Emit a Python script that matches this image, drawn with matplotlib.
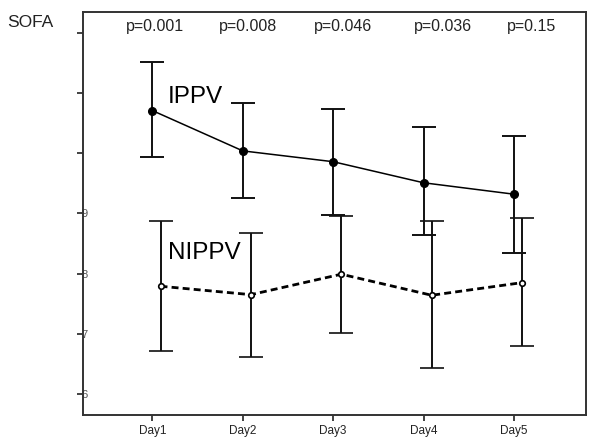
"""SOFA score over days, IPPV vs NIPPV."""

import matplotlib.pyplot as plt
import numpy as np

plt.rcParams['font.family'] = ['Liberation Sans', 'DejaVu Sans']

days = ['Day1', 'Day2', 'Day3', 'Day4', 'Day5']

ippv_mean = [10.71, 10.04, 9.86, 9.51, 9.32]
ippv_lo = [9.93, 9.25, 8.98, 8.65, 8.35]
ippv_hi = [11.51, 10.84, 10.74, 10.43, 10.28]

nippv_mean = [7.79, 7.65, 7.99, 7.64, 7.85]
nippv_lo = [6.72, 6.62, 7.02, 6.43, 6.79]
nippv_hi = [8.87, 8.67, 8.95, 8.87, 8.93]

p_values = ['p=0.001', 'p=0.008', 'p=0.046', 'p=0.036', 'p=0.15']

x = np.arange(1, len(days) + 1)
x_nippv = x + 0.09  # NIPPV drawn slightly offset in the original

fig = plt.figure(figsize=(6, 4.41), dpi=100)
ax = fig.add_axes([0.138, 0.059, 0.839, 0.914])

ippv_err = [np.subtract(ippv_mean, ippv_lo), np.subtract(ippv_hi, ippv_mean)]
nippv_err = [np.subtract(nippv_mean, nippv_lo), np.subtract(nippv_hi, nippv_mean)]

ax.errorbar(x, ippv_mean, yerr=ippv_err, color='black', linewidth=1.1,
            marker='o', markersize=5.5, markerfacecolor='black',
            ecolor='#111111', elinewidth=1.4, capsize=8.5, capthick=1.4)

ax.errorbar(x_nippv, nippv_mean, yerr=nippv_err, color='black',
            linewidth=2.0, linestyle=(0, (2.5, 1.5)),
            marker='o', markersize=4, markerfacecolor='white',
            markeredgewidth=1.2,
            ecolor='#111111', elinewidth=1.4, capsize=8.5, capthick=1.4)

ax.text(1.17, 10.84, 'IPPV', fontsize=17.5, va='baseline', ha='left')
ax.text(1.17, 8.24, 'NIPPV', fontsize=17.5, va='baseline', ha='left')

# p-values along the top; left edges
p_x = [0.71, 1.74, 2.79, 3.89, 4.92]
for px, label in zip(p_x, p_values):
    ax.text(px, 12.1, label, fontsize=11.5, va='center', ha='left', color='#222222')

fig.text(0.012, 0.95, 'SOFA', fontsize=12.5, va='center', ha='left', color='#222222')

ax.set_xlim(0.23, 5.8)
ax.set_ylim(5.65, 12.35)

ax.set_xticks(x)
ax.set_xticklabels(days, fontsize=8.5, color='#222222')
ax.set_yticks([6, 7, 8, 9, 10, 11, 12])
ax.set_yticklabels(['6', '7', '8', '9', '', '', ''], fontsize=8, color='#555555')

ax.tick_params(axis='x', direction='out', length=4, width=1.2, pad=3, colors='#222222')
ax.tick_params(axis='y', direction='out', length=4.3, width=1.2, pad=-8, colors='#222222')
for lab in ax.get_yticklabels():
    lab.set_color('#555555')

for spine in ax.spines.values():
    spine.set_color('#333333')
    spine.set_linewidth(1.4)

fig.savefig('out.png', dpi=100)
